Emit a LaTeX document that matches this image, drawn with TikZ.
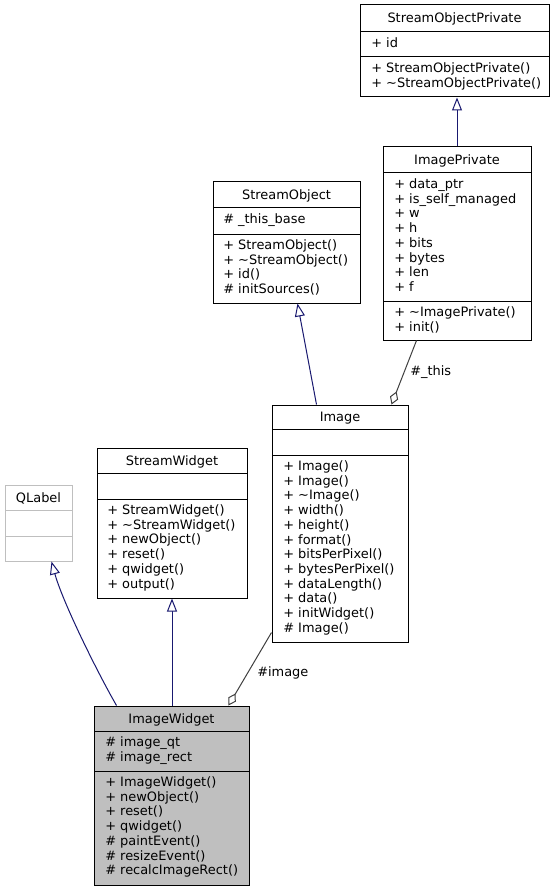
\documentclass[tikz,border=0pt]{standalone}
\usepackage{fontspec}
\setmainfont{DejaVu Sans}
\usetikzlibrary{arrows.meta,fit,calc}
\definecolor{inhcol}{HTML}{191970}
\definecolor{aggcol}{HTML}{404040}
\definecolor{extcol}{HTML}{BFBFBF}
\definecolor{curfill}{HTML}{BFBFBF}
\newcommand{\firststrut}{\rule{0pt}{11.4pt}}
\newcommand{\umlfont}{\fontsize{9.7}{11.03}\selectfont}
\begin{document}
\begin{tikzpicture}[x=0.75pt,y=-0.75pt,
  box/.style={draw=black,line width=0.75pt,inner sep=0pt,fill=white},
  extbox/.style={draw=extcol,line width=0.75pt,inner sep=0pt,fill=white},
  curbox/.style={draw=black,line width=0.75pt,inner sep=0pt,fill=curfill},
  divline/.style={draw=black,line width=0.75pt},
  extdiv/.style={draw=extcol,line width=0.75pt},
  ttl/.style={anchor=base,inner sep=0pt,font=\umlfont},
  mem/.style={anchor=north west,inner sep=0pt,align=left,font=\umlfont},
  lbl/.style={anchor=base west,inner sep=0pt,font=\umlfont},
  inherit/.style={draw=inhcol,line width=0.75pt,-{Triangle[open,length=9.75pt,width=7.5pt,fill=white]}},
  agg/.style={draw=aggcol,line width=0.75pt,-{Diamond[open,length=10.5pt,width=6.5pt,fill=white]}}]
\fill[white] (0,0) rectangle (559,891);
\useasboundingbox (0,0) rectangle (559,891);

% StreamObjectPrivate
\node[box,fit={(360,5) (549,97)}] (sop) {};
\draw[divline] (360,32) -- (549,32);
\draw[divline] (360,57) -- (549,57);
\node[ttl] (sop-t) at (454.5,23) {StreamObjectPrivate};
\node[mem] (sop-a) at (371,32) {\firststrut+ id};
\node[mem] (sop-m) at (371,57) {\firststrut+ StreamObjectPrivate()\\+ \textasciitilde StreamObjectPrivate()};

% ImagePrivate
\node[box,fit={(383,147) (531,340)}] (ip) {};
\draw[divline] (383,173) -- (531,173);
\draw[divline] (383,301) -- (531,301);
\node[ttl] (ip-t) at (457,164.5) {ImagePrivate};
\node[mem] (ip-a) at (394,173) {\firststrut+ data\_ptr\\+ is\_self\_managed\\+ w\\+ h\\+ bits\\+ bytes\\+ len\\+ f};
\node[mem] (ip-m) at (394,301) {\firststrut+ \textasciitilde ImagePrivate()\\+ init()};

% StreamObject
\node[box,fit={(213,182) (360,303)}] (so) {};
\draw[divline] (213,208) -- (360,208);
\draw[divline] (213,234) -- (360,234);
\node[ttl] (so-t) at (286.5,199.5) {StreamObject};
\node[mem] (so-a) at (223,208) {\firststrut\# \_this\_base};
\node[mem] (so-m) at (223,234) {\firststrut+ StreamObject()\\+ \textasciitilde StreamObject()\\+ id()\\\# initSources()};

% Image
\node[box,fit={(272,405) (408,642)}] (img) {};
\draw[divline] (272,429) -- (408,429);
\draw[divline] (272,455) -- (408,455);
\node[ttl] (img-t) at (340,421.5) {Image};
\node[mem] (img-m) at (283,455) {\firststrut+ Image()\\+ Image()\\+ \textasciitilde Image()\\+ width()\\+ height()\\+ format()\\+ bitsPerPixel()\\+ bytesPerPixel()\\+ dataLength()\\+ data()\\+ initWidget()\\\# Image()};

% StreamWidget
\node[box,fit={(97,448) (247,598)}] (sw) {};
\draw[divline] (97,473) -- (247,473);
\draw[divline] (97,499) -- (247,499);
\node[ttl] (sw-t) at (172,465) {StreamWidget};
\node[mem] (sw-m) at (107,499) {\firststrut+ StreamWidget()\\+ \textasciitilde StreamWidget()\\+ newObject()\\+ reset()\\+ qwidget()\\+ output()};

% QLabel
\node[extbox,fit={(5,485) (72,561)}] (ql) {};
\draw[extdiv] (5,510) -- (72,510);
\draw[extdiv] (5,536) -- (72,536);
\node[ttl] (ql-t) at (38.5,502) {QLabel};

% ImageWidget
\node[curbox,fit={(94,706) (249,885)}] (iw) {};
\draw[divline] (94,731) -- (249,731);
\draw[divline] (94,771) -- (249,771);
\node[ttl] (iw-t) at (171.5,723) {ImageWidget};
\node[mem] (iw-a) at (105,731) {\firststrut\# image\_qt\\\# image\_rect};
\node[mem] (iw-m) at (105,771) {\firststrut+ ImageWidget()\\+ newObject()\\+ reset()\\+ qwidget()\\\# paintEvent()\\\# resizeEvent()\\\# recalcImageRect()};

% connectors
\draw[inherit] (ip.north) -- (ip.north |- sop.south);
\draw[inherit] ($(img.north west)+(45,0)$) -- ($(so.south west)+(85,0)$);
\draw[agg] ($(ip.south west)+(34,0)$) -- ($(img.north west)+(120,0)$);
\node[lbl] (lthis) at (410,375.5) {\#\_this};
\draw[inherit] ($(iw.north west)+(23,0)$) .. controls (95,668) and (62,600) .. ($(ql.south west)+(47,0)$);
\draw[inherit] (iw.north -| sw.south) -- (sw.south);
\draw[agg] ($(img.south west)+(0,-10)$) -- ($(iw.north west)+(135,0)$);
\node[lbl] (limage) at (257,676.5) {\#image};
\end{tikzpicture}
\end{document}
